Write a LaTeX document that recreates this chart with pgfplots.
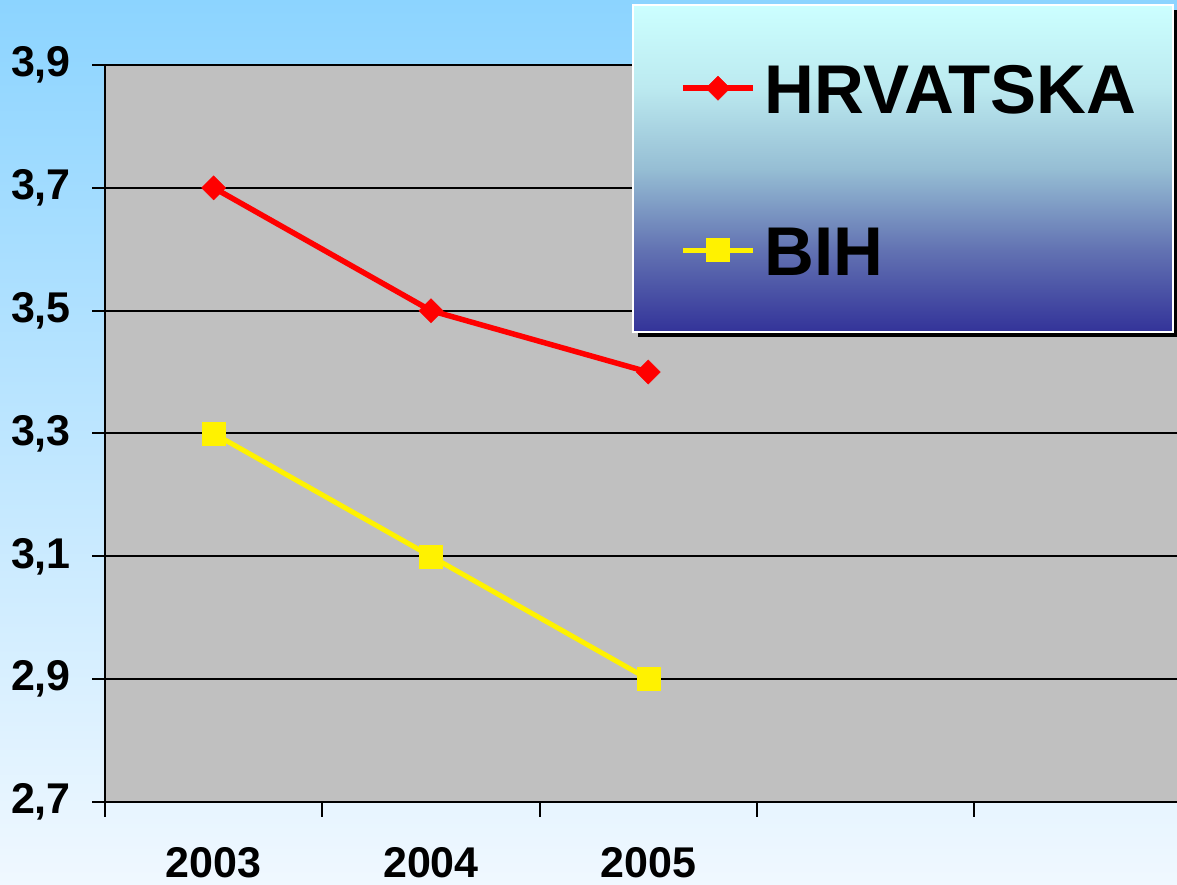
\documentclass[border=0pt]{standalone}
\usepackage{pgfplots}
\pgfplotsset{compat=1.18}
\usepackage{fontspec}
\setmainfont{Liberation Sans}
\usetikzlibrary{shadows,calc}
\definecolor{bgtop}{RGB}{140,212,255}
\definecolor{bgbot}{RGB}{240,248,255}
\definecolor{plotgray}{RGB}{192,192,192}
\definecolor{legtop}{RGB}{204,255,255}
\definecolor{legm1}{RGB}{188,234,240}
\definecolor{legm2}{RGB}{150,190,212}
\definecolor{legm3}{RGB}{98,114,178}
\definecolor{legbot}{RGB}{51,51,153}
\pgfdeclareverticalshading{legshade}{100bp}{color(0bp)=(legbot); color(25bp)=(legbot); color(37.5bp)=(legm3); color(50bp)=(legm2); color(62.5bp)=(legm1); color(75bp)=(legtop); color(100bp)=(legtop)}
\begin{document}
\begin{tikzpicture}
\shade[top color=bgtop, bottom color=bgbot] (0pt,0pt) rectangle (1177pt,885pt);
\begin{scope}
\clip (0pt,0pt) rectangle (1177pt,885pt);
\begin{axis}[
  at={(105pt,83pt)}, anchor=south west,
  scale only axis, width=1072pt, height=737pt,
  xmin=0.5, xmax=5.433, ymin=2.7, ymax=3.9,
  clip=false,
  axis background/.style={fill=plotgray},
  axis x line*=bottom, axis y line*=left,
  axis line style={line width=2.5pt, black},
  tick align=outside,
  major tick length=13pt,
  minor tick length=15pt,
  xtick={1,2,3}, xticklabels={2003,2004,2005},
  minor xtick={0.5,1.5,2.5,3.5,4.5},
  major x tick style={draw=none},
  minor x tick style={line width=2pt, black},
  ytick={2.7,2.9,3.1,3.3,3.5,3.7,3.9},
  y tick style={line width=2pt, black},
  ymajorgrids, major grid style={line width=2pt, black},
  /pgf/number format/.cd, use comma, fixed, fixed zerofill, precision=1, assume math mode=true,
  /pgfplots/.cd,
  yticklabel style={font=\fontsize{43}{43}\selectfont\bfseries, inner sep=0pt, xshift=-21pt},
  xticklabel style={font=\fontsize{43}{43}\selectfont\bfseries, inner sep=0pt, yshift=-32pt},
  legend style={at={(0.5364,1.0027)}, anchor=north west, draw=none, fill=none,
    inner sep=0pt, row sep=112pt, column sep=9pt,
    nodes={inner sep=0pt, text height=50pt, text depth=0pt},
    font=\fontsize{69}{69}\selectfont\bfseries},
  legend cell align=left,
  legend image code/.code={\draw[mark repeat=2, mark phase=2, #1] plot coordinates {(0pt,0pt)(35pt,0pt)(70pt,0pt)};},
]
\addplot[red, line width=5.5pt, mark=square*, mark size=8.5pt, mark options={solid, rotate=45, line width=0.5pt}]
  coordinates {(1,3.7)(2,3.5)(3,3.4)};
\addlegendentry{HRVATSKA}
\addplot[yellow, line width=5pt, mark=square*, mark size=11.5pt, mark options={solid, line width=0.5pt}]
  coordinates {(1,3.3)(2,3.1)(3,2.9)};
\addlegendentry{BIH}
\fill[black] ($(rel axis cs:0.49254,1.08141)+(5pt,-5pt)$) rectangle ($(rel axis cs:0.99627,0.63772)+(5pt,-5pt)$);
\shade[shading=legshade, draw=white, line width=2pt] (rel axis cs:0.49254,1.08141) rectangle (rel axis cs:0.99627,0.63772);
\end{axis}
\end{scope}
\pgfresetboundingbox
\path[use as bounding box] (0pt,0pt) rectangle (1177pt,885pt);
\end{tikzpicture}
\end{document}
